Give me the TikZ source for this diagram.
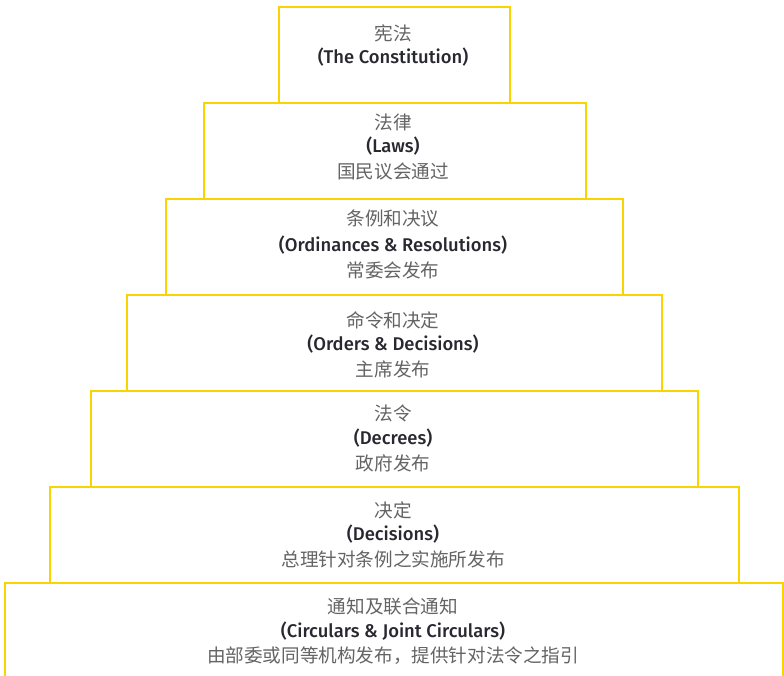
\documentclass[tikz,border=0pt]{standalone}
\usepackage{fontspec}
\setmainfont{Fira Sans}[BoldFont={Fira Sans Medium}]
\newfontfamily\cjk{Noto Sans CJK SC}
\definecolor{eyyellow}{RGB}{250,212,0}
\definecolor{zhgrey}{RGB}{100,100,100}
\definecolor{endark}{RGB}{40,40,48}
\begin{document}
\begin{tikzpicture}[x=1pt,y=-1pt,
  tier/.style={draw=eyyellow,line width=1.6pt,fill=white,inner sep=0pt,anchor=north west},
  zh/.style={font=\cjk\fontsize{18.6}{20}\selectfont,text=zhgrey,inner sep=0pt},
  en/.style={font=\bfseries\fontsize{18.4}{20}\selectfont,text=endark,inner sep=0pt}]
\useasboundingbox[fill=white] (0,0) rectangle (784,676);
% tiers (bottom first so upper tiers overlap)
\node[tier,minimum width=778pt,minimum height=110pt] (b7) at (4,582) {};
\node[tier,minimum width=689pt,minimum height=96pt] (b6) at (49,486) {};
\node[tier,minimum width=607pt,minimum height=96pt] (b5) at (90,390) {};
\node[tier,minimum width=535pt,minimum height=96pt] (b4) at (126,294) {};
\node[tier,minimum width=457pt,minimum height=96pt] (b3) at (165,198) {};
\node[tier,minimum width=382pt,minimum height=96pt] (b2) at (203,102) {};
\node[tier,minimum width=231pt,minimum height=96pt] (b1) at (278,6) {};
% texts
\node[zh] (t1a) at (393,33) {宪法};
\node[en] (t1b) at (393,57) {(The Constitution)};
\node[zh] (t2a) at (393,122) {法律};
\node[en] (t2b) at (393,146) {(Laws)};
\node[zh] (t2c) at (393,171) {国民议会通过};
\node[zh] (t3a) at (393,218) {条例和决议};
\node[en] (t3b) at (393,245) {(Ordinances \& Resolutions)};
\node[zh] (t3c) at (393,270) {常委会发布};
\node[zh] (t4a) at (393,320) {命令和决定};
\node[en] (t4b) at (393,344) {(Orders \& Decisions)};
\node[zh] (t4c) at (393,369) {主席发布};
\node[zh] (t5a) at (393,413) {法令};
\node[en] (t5b) at (393,438) {(Decrees)};
\node[zh] (t5c) at (393,463) {政府发布};
\node[zh] (t6a) at (393,510) {决定};
\node[en] (t6b) at (393,534) {(Decisions)};
\node[zh] (t6c) at (393,559) {总理针对条例之实施所发布};
\node[zh] (t7a) at (393,606) {通知及联合通知};
\node[en] (t7b) at (393,631) {(Circulars \& Joint Circulars)};
\node[zh] (t7c) at (393,656) {由部委或同等机构发布，提供针对法令之指引};
\end{tikzpicture}
\end{document}
